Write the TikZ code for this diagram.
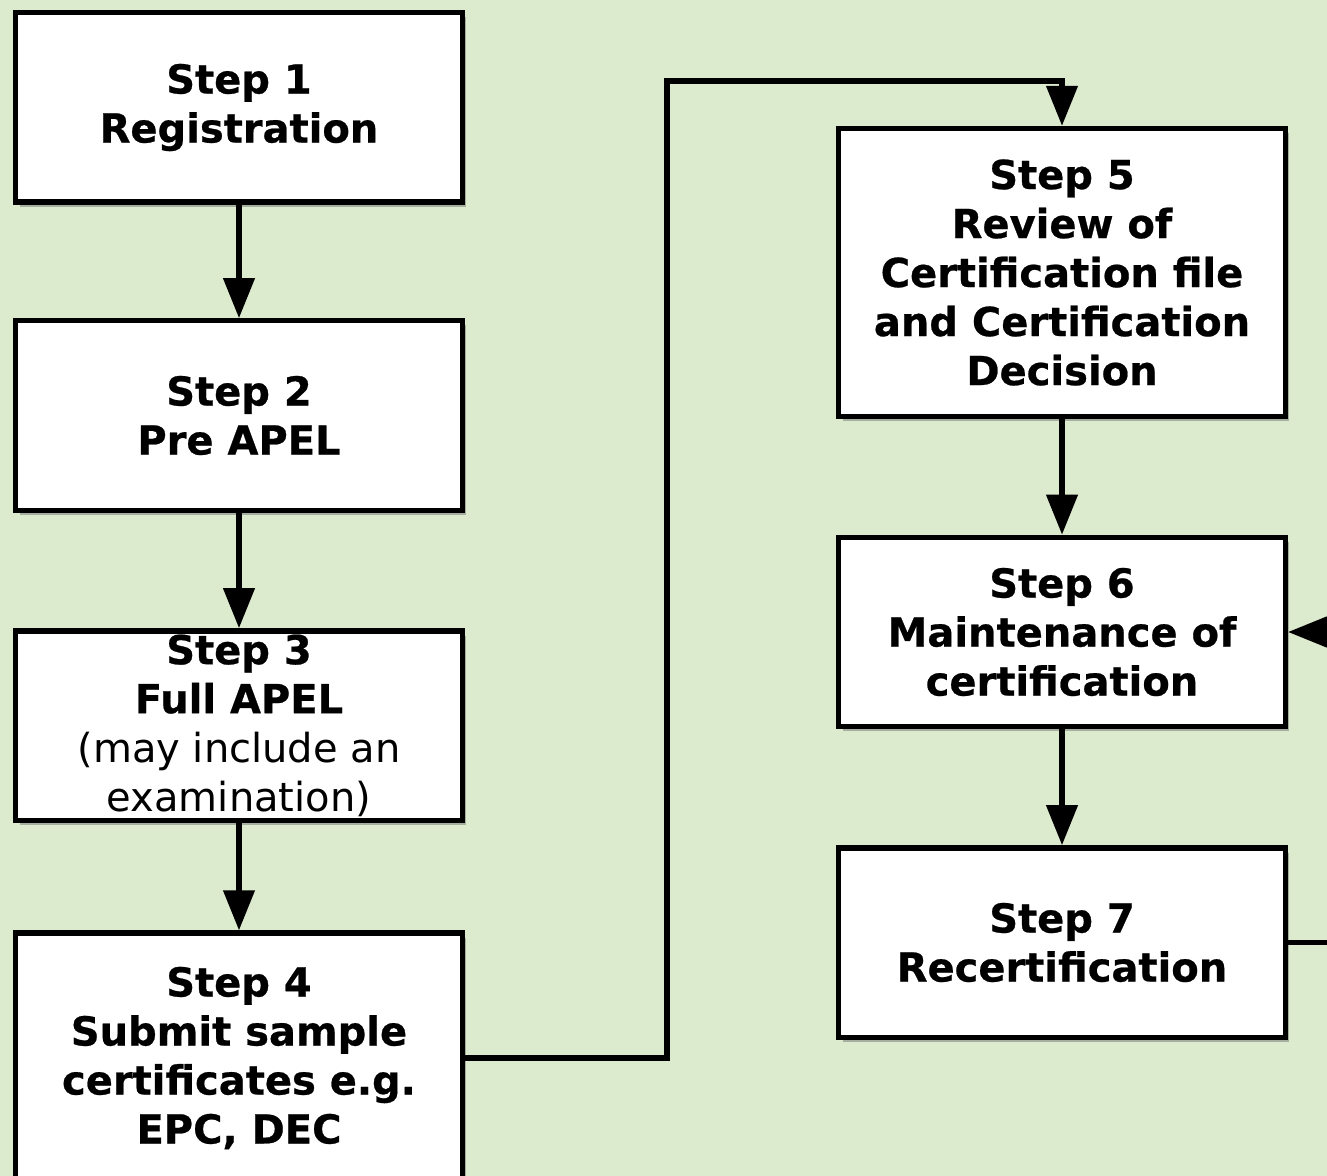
\documentclass[tikz,border=0pt]{standalone}
\usepackage{fontspec}
\setmainfont{DejaVu Sans}[BoldFeatures={FakeBold=0.6}]
\usetikzlibrary{arrows.meta,shadows}
\definecolor{bg}{RGB}{220,234,206}
\begin{document}
\begin{tikzpicture}[x=0.75pt,y=-0.75pt,
  box/.style={draw=black, line width=4pt, fill=white, inner sep=0pt,
    minimum width=335pt, minimum height=142pt, align=center,
    font=\fontsize{30}{36.75}\selectfont\bfseries,
    drop shadow={shadow xshift=3pt, shadow yshift=-3.5pt, opacity=0.45, fill=black!60}},
  conn/.style={line width=4pt, -{Triangle[length=30pt,width=23pt]}},
  plain/.style={line width=4pt}]
\useasboundingbox (0,0) rectangle (1327,1176);
\clip (0,0) rectangle (1327,1176);
\fill[bg] (0,0) rectangle (1327,1176);
\node[box] (s1) at (239,107.5) {Step 1\\Registration};
\node[box] (s2) at (239,415.5) {Step 2\\Pre APEL};
\node[box] (s3) at (239,725.5) {Step 3\\Full APEL\\{\mdseries (may include an}\\{\mdseries examination)}};
\node[box, minimum height=187.5pt] (s4) at (239,1058) {Step 4\\Submit sample\\certificates e.g.\\EPC, DEC};
\node[box, minimum height=216pt] (s5) at (1062,272.5) {Step 5\\Review of\\Certification file\\and Certification\\Decision};
\node[box] (s6) at (1062,632) {Step 6\\Maintenance of\\certification};
\node[box] (s7) at (1062,942.5) {Step 7\\Recertification};
\coordinate (bend) at (667,81);
\coordinate (r6) at (1370,632);
\coordinate (r7) at (1370,942.5);
\draw[conn] (s1) -- (s2);
\draw[conn] (s2) -- (s3);
\draw[conn] (s3) -- (s4);
\draw[conn] (s4.east) -| (bend) -| (s5.north);
\draw[conn] (s5) -- (s6);
\draw[conn] (s6) -- (s7);
\draw[plain] (s7.east) -- (r7);
\draw[conn] (r6) -- (s6.east);
\end{tikzpicture}
\end{document}
